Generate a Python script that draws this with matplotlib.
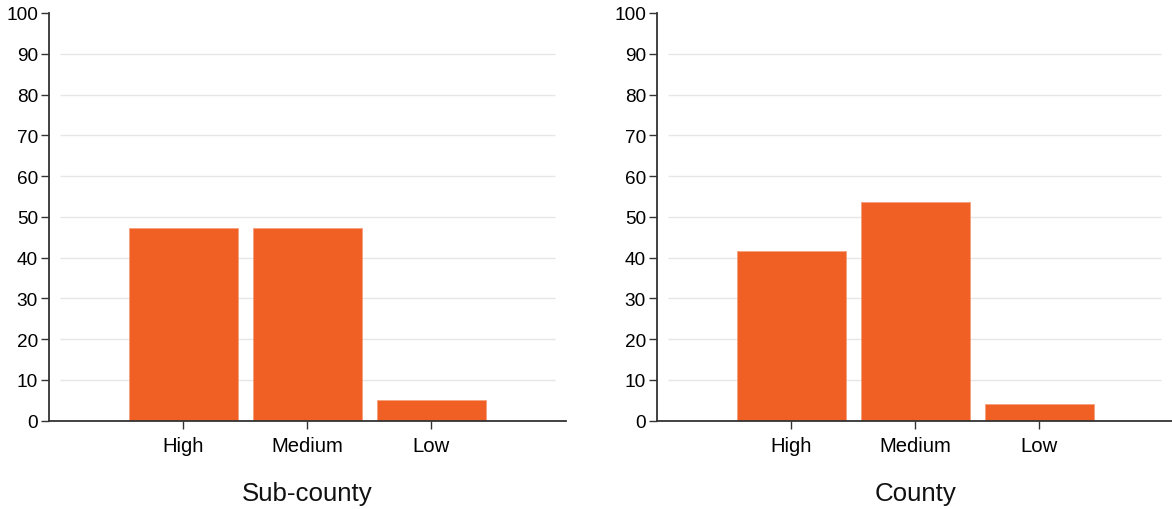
import numpy as np
import matplotlib.pyplot as plt

plt.rcParams['font.family'] = ['Liberation Sans', 'DejaVu Sans']

# data
categories = ["High", "Medium", "Low"]
subcounty_vals = [47.2, 47.3, 5.0]
county_vals = [41.7, 53.6, 4.1]
panel_titles = ["Sub-county", "County"]
y_ticks = list(range(0, 101, 10))

bar_color = "#F06025"
grid_color = "#e6e6e6"
axis_color = "#333333"

W, H = 1172, 510
fig = plt.figure(figsize=(W / 100, H / 100), dpi=100)

# axes boxes in pixels: left, right
boxes = [(49, 566), (657, 1172)]
y_zero, y_top = 421.7, 14

for (x0, x1), vals, title in zip(boxes, [subcounty_vals, county_vals], panel_titles):
    ax = fig.add_axes([x0 / W, (H - y_zero) / H, (x1 - x0) / W, (y_zero - y_top) / H])
    unit = 124.0
    xmin = -(183.3 - 49) / unit
    xmax = xmin + (x1 - x0) / unit
    x = np.arange(len(categories))
    ax.bar(x, vals, width=0.88, color=bar_color, edgecolor="#f5a07c", linewidth=0.6, zorder=2)

    # gridlines inset from axes ends
    inset = 11 / unit
    ax.hlines(y_ticks[1:-1], xmin + inset, xmax - inset, color=grid_color, linewidth=1, zorder=1)

    ax.set_xlim(xmin, xmax)
    ax.set_ylim(0, 100)
    ax.set_yticks(y_ticks)
    ax.set_xticks(x)
    ax.set_xticklabels(categories)

    for s in ["top", "right"]:
        ax.spines[s].set_visible(False)
    for s in ["left", "bottom"]:
        ax.spines[s].set_color(axis_color)
        ax.spines[s].set_linewidth(1.3)
    ax.tick_params(axis="y", length=6, width=1, color=axis_color, labelsize=13.7, pad=2)
    ax.tick_params(axis="x", length=6, width=1, color=axis_color, labelsize=14.6, pad=5)

    # panel label under the axis
    cx = (x0 + (1 - xmin) * unit) / W
    fig.text(cx, (H - 494) / H, title, ha="center", va="center", fontsize=18.6, color="#111111")

fig.savefig("out.png", dpi=100)
